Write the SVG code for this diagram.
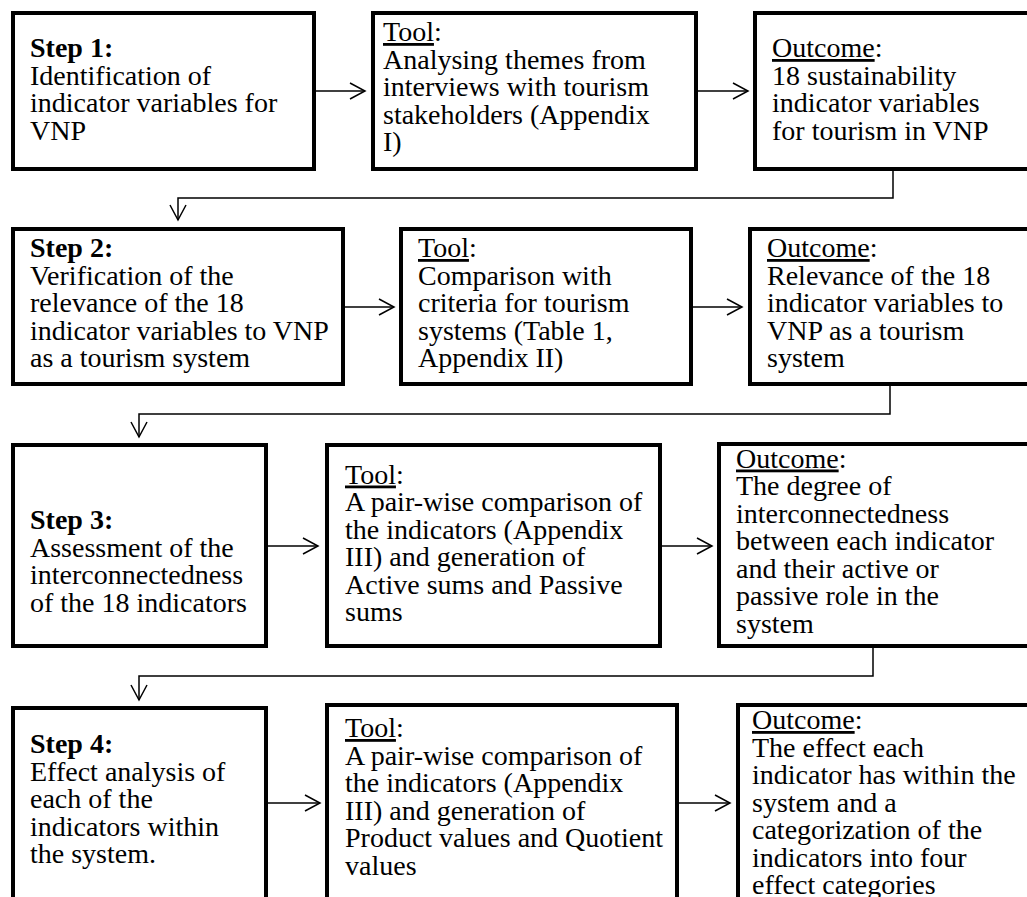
<svg xmlns="http://www.w3.org/2000/svg" width="1027" height="897" viewBox="0 0 1027 897">
<style>
  .box { fill: none; stroke: #000; stroke-width: 4; }
  .t { font-family: "Liberation Serif", "Times New Roman", serif; font-size: 28px; fill: #000; }
  .b { font-weight: bold; }
  .u { text-decoration: underline; }
  .conn { fill: none; stroke: #000; stroke-width: 1.5; }
</style>
<defs>
  <marker id="arr" markerUnits="userSpaceOnUse" markerWidth="20" markerHeight="20" refX="16" refY="9" orient="auto">
    <path d="M1,1 L16,9 L1,17" fill="none" stroke="#000" stroke-width="1.5"/>
  </marker>
</defs>
<rect x="0" y="0" width="1027" height="897" fill="#fff"/>

<g id="step1">
  <text class="t"><tspan class="b" x="30" y="57">Step 1:</tspan><tspan x="30" y="84.5">Identification of</tspan><tspan x="30" y="112">indicator variables for</tspan><tspan x="30" y="139.5">VNP</tspan></text>
  <rect class="box" x="13" y="13" width="301" height="156"/>
</g>
<g id="tool1">
  <text class="t"><tspan x="383" y="41"><tspan class="u">Tool</tspan>:</tspan><tspan x="383" y="68.5">Analysing themes from</tspan><tspan x="383" y="96">interviews with tourism</tspan><tspan x="383" y="123.5">stakeholders (Appendix</tspan><tspan x="383" y="151">I)</tspan></text>
  <rect class="box" x="373" y="13" width="323" height="156"/>
</g>
<g id="outcome1">
  <text class="t"><tspan x="772" y="57"><tspan class="u">Outcome</tspan>:</tspan><tspan x="772" y="84.5">18 sustainability</tspan><tspan x="772" y="112">indicator variables</tspan><tspan x="772" y="139.5">for tourism in VNP</tspan></text>
  <rect class="box" x="755" y="13" width="290" height="156"/>
</g>

<g id="step2">
  <text class="t"><tspan class="b" x="30" y="257">Step 2:</tspan><tspan x="30" y="284.5">Verification of the</tspan><tspan x="30" y="312">relevance of the 18</tspan><tspan x="30" y="339.5">indicator variables to VNP</tspan><tspan x="30" y="367">as a tourism system</tspan></text>
  <rect class="box" x="13" y="229" width="330" height="155"/>
</g>
<g id="tool2">
  <text class="t"><tspan x="418" y="257"><tspan class="u">Tool</tspan>:</tspan><tspan x="418" y="284.5">Comparison with</tspan><tspan x="418" y="312">criteria for tourism</tspan><tspan x="418" y="339.5">systems (Table 1,</tspan><tspan x="418" y="367">Appendix II)</tspan></text>
  <rect class="box" x="401" y="229" width="290" height="155"/>
</g>
<g id="outcome2">
  <text class="t"><tspan x="767" y="257"><tspan class="u">Outcome</tspan>:</tspan><tspan x="767" y="284.5">Relevance of the 18</tspan><tspan x="767" y="312">indicator variables to</tspan><tspan x="767" y="339.5">VNP as a tourism</tspan><tspan x="767" y="367">system</tspan></text>
  <rect class="box" x="750" y="229" width="295" height="155"/>
</g>

<g id="step3">
  <text class="t"><tspan class="b" x="30" y="529">Step 3:</tspan><tspan x="30" y="556.5">Assessment of the</tspan><tspan x="30" y="584">interconnectedness</tspan><tspan x="30" y="611.5">of the 18 indicators</tspan></text>
  <rect class="box" x="13" y="445" width="253" height="201"/>
</g>
<g id="tool3">
  <text class="t"><tspan x="345" y="483.5"><tspan class="u">Tool</tspan>:</tspan><tspan x="345" y="511">A pair-wise comparison of</tspan><tspan x="345" y="538.5">the indicators (Appendix</tspan><tspan x="345" y="566">III) and generation of</tspan><tspan x="345" y="593.5">Active sums and Passive</tspan><tspan x="345" y="621">sums</tspan></text>
  <rect class="box" x="327" y="445" width="333" height="201"/>
</g>
<g id="outcome3">
  <text class="t"><tspan x="736" y="467.5"><tspan class="u">Outcome</tspan>:</tspan><tspan x="736" y="495">The degree of</tspan><tspan x="736" y="522.5">interconnectedness</tspan><tspan x="736" y="550">between each indicator</tspan><tspan x="736" y="577.5">and their active or</tspan><tspan x="736" y="605">passive role in the</tspan><tspan x="736" y="632.5">system</tspan></text>
  <rect class="box" x="719" y="444" width="326" height="202"/>
</g>

<g id="step4">
  <text class="t"><tspan class="b" x="30" y="753">Step 4:</tspan><tspan x="30" y="780.5">Effect analysis of</tspan><tspan x="30" y="808">each of the</tspan><tspan x="30" y="835.5">indicators within</tspan><tspan x="30" y="863">the system.</tspan></text>
  <rect class="box" x="13" y="708" width="253" height="250"/>
</g>
<g id="tool4">
  <text class="t"><tspan x="345" y="737"><tspan class="u">Tool</tspan>:</tspan><tspan x="345" y="764.5">A pair-wise comparison of</tspan><tspan x="345" y="792">the indicators (Appendix</tspan><tspan x="345" y="819.5">III) and generation of</tspan><tspan x="345" y="847">Product values and Quotient</tspan><tspan x="345" y="874.5">values</tspan></text>
  <rect class="box" x="327" y="705" width="350" height="250"/>
</g>
<g id="outcome4">
  <text class="t"><tspan x="752" y="729"><tspan class="u">Outcome</tspan>:</tspan><tspan x="752" y="756.5">The effect each</tspan><tspan x="752" y="784">indicator has within the</tspan><tspan x="752" y="811.5">system and a</tspan><tspan x="752" y="839">categorization of the</tspan><tspan x="752" y="866.5">indicators into four</tspan><tspan x="752" y="894">effect categories</tspan></text>
  <rect class="box" x="738" y="705" width="300" height="250"/>
</g>

<g id="connectors">
  <path class="conn" d="M316,91 H365" marker-end="url(#arr)"/>
  <path class="conn" d="M698,91 H748" marker-end="url(#arr)"/>
  <path class="conn" d="M893,171 V198 H178 V220" marker-end="url(#arr)"/>
  <path class="conn" d="M345,307 H394" marker-end="url(#arr)"/>
  <path class="conn" d="M693,307 H742" marker-end="url(#arr)"/>
  <path class="conn" d="M890,386 V414 H139 V437" marker-end="url(#arr)"/>
  <path class="conn" d="M268,546 H318" marker-end="url(#arr)"/>
  <path class="conn" d="M662,546 H712" marker-end="url(#arr)"/>
  <path class="conn" d="M873,648 V676 H139 V700" marker-end="url(#arr)"/>
  <path class="conn" d="M268,803 H320" marker-end="url(#arr)"/>
  <path class="conn" d="M679,803 H730" marker-end="url(#arr)"/>
</g>
</svg>
